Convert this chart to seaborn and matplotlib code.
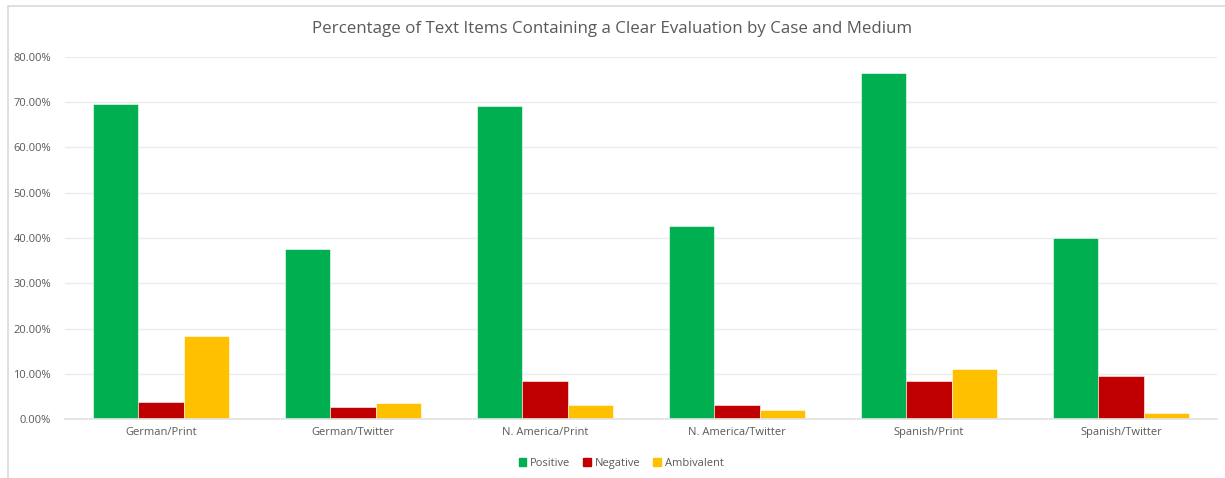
import matplotlib
matplotlib.use("Agg")
import matplotlib.pyplot as plt
import matplotlib.patches as mpatches
from matplotlib.lines import Line2D
from matplotlib.ticker import FuncFormatter, MultipleLocator
import seaborn as sns
import pandas as pd

categories = ["German/Print", "German/Twitter", "N. America/Print",
              "N. America/Twitter", "Spanish/Print", "Spanish/Twitter"]
positive = [0.697, 0.376, 0.692, 0.426, 0.765, 0.400]
negative = [0.0375, 0.026, 0.083, 0.030, 0.083, 0.096]
ambivalent = [0.183, 0.0345, 0.032, 0.0205, 0.111, 0.0125]
series_names = ["Positive", "Negative", "Ambivalent"]
colors = ["#00B050", "#C00000", "#FFC000"]

rows = []
for name, vals in zip(series_names, [positive, negative, ambivalent]):
    for c, v in zip(categories, vals):
        rows.append({"Category": c, "Series": name, "Value": v})
df = pd.DataFrame(rows)

sns.set_theme(style="white")
plt.rcParams["font.family"] = ["Open Sans", "DejaVu Sans"]

fig = plt.figure(figsize=(12.25, 4.78), dpi=100)
ax = fig.add_axes([0.053, 0.1234, 0.9404, 0.7574])

sns.barplot(data=df, x="Category", y="Value", hue="Series",
            palette=colors, hue_order=series_names, order=categories,
            width=0.71, saturation=1, ax=ax, legend=False, errorbar=None,
            edgecolor="white", linewidth=0.4)

ax.set_ylim(0, 0.8)
ax.set_xlim(-0.5, 5.5)
ax.yaxis.set_major_locator(MultipleLocator(0.1))
ax.yaxis.set_major_formatter(FuncFormatter(lambda v, p: f"{v*100:.2f}%"))
ax.grid(axis="y", color="#EBEBEB", linewidth=1)
ax.set_axisbelow(True)
for s in ["top", "right", "left"]:
    ax.spines[s].set_visible(False)
ax.spines["bottom"].set_color("#E3E3E3")
ax.tick_params(axis="both", length=0, labelsize=8, colors="#595959", pad=6)
ax.tick_params(axis="y", pad=10)
ax.set_xlabel("")
ax.set_ylabel("")

fig.text(0.5, 0.94, "Percentage of Text Items Containing a Clear Evaluation by Case and Medium",
         ha="center", va="center", fontsize=12.2, color="#595959")

handles = [mpatches.Patch(color=c, label=n) for c, n in zip(colors, series_names)]
fig.legend(handles=handles, loc="center", bbox_to_anchor=(0.507, 0.031), ncol=3,
           frameon=False, fontsize=8, handlelength=0.7, handleheight=0.7,
           handletextpad=0.3, columnspacing=1.2, labelcolor="#595959")

bx = 7.5 / 1225
by = 1 - 5.5 / 478
fig.add_artist(Line2D([bx, 1.0], [by, by], transform=fig.transFigure,
                      color="#D9D9D9", linewidth=1.2))
fig.add_artist(Line2D([bx, bx], [0.0, by], transform=fig.transFigure,
                      color="#D9D9D9", linewidth=1.2))

fig.savefig("out.png", dpi=100)
